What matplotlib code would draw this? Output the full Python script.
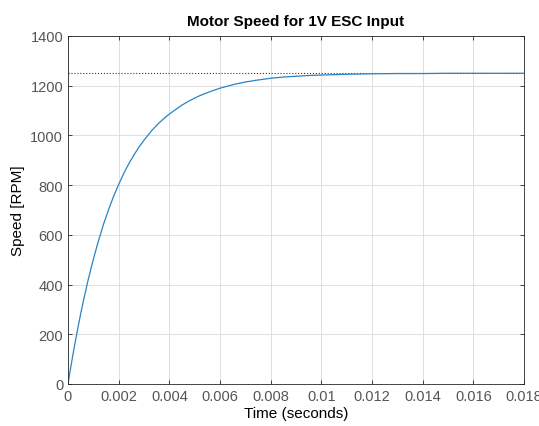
import matplotlib
matplotlib.use("Agg")
import matplotlib.pyplot as plt

# values
time_s = [0, 0.0001, 0.0002, 0.0003, 0.0004, 0.0005, 0.0006, 0.0008, 0.001, 0.0012,
          0.0014, 0.0016, 0.0018, 0.002, 0.0022, 0.0024, 0.0026, 0.0028, 0.003, 0.0033,
          0.0036, 0.0039, 0.0042, 0.0045, 0.0048, 0.0052, 0.0056, 0.006, 0.0065, 0.007,
          0.0075, 0.008, 0.0085, 0.009, 0.0095, 0.010, 0.011, 0.012, 0.013, 0.014,
          0.015, 0.016, 0.017, 0.018]
speed_rpm = [0, 62, 121, 177, 231, 282, 331, 421, 502, 575,
             642, 701, 755, 803, 847, 886, 921, 953, 981, 1019,
             1051, 1078, 1101, 1122, 1140, 1160, 1176, 1190, 1204, 1215,
             1223, 1230, 1235, 1238, 1241, 1243, 1246, 1248, 1249, 1249,
             1250, 1250, 1250, 1250]
final_speed = 1250

plt.rcParams['font.family'] = ['Liberation Sans', 'DejaVu Sans']

fig = plt.figure(figsize=(5.39, 4.27), dpi=100)
ax = fig.add_axes([68/539, 1 - 385/427, (524 - 68)/539, (385 - 37)/427])

ax.plot([0, 0.018], [final_speed, final_speed], color='#333333', linestyle=':', linewidth=0.8)
ax.plot(time_s, speed_rpm, color='#2a83c4', linewidth=0.9)

ax.set_xlim(0, 0.018)
ax.set_ylim(0, 1400)
ax.set_xticks([0, 0.002, 0.004, 0.006, 0.008, 0.01, 0.012, 0.014, 0.016, 0.018])
ax.set_xticklabels(['0', '0.002', '0.004', '0.006', '0.008', '0.01', '0.012', '0.014', '0.016', '0.018'])
ax.set_yticks(range(0, 1401, 200))

ax.grid(True, color='#d9d9d9', linewidth=0.6)
ax.set_axisbelow(True)
for s in ax.spines.values():
    s.set_color('#262626')
    s.set_linewidth(0.6)
ax.tick_params(direction='in', top=True, right=True, length=3, width=0.6,
               colors='#262626', labelcolor='#555555', labelsize=10.5)

ax.set_title('Motor Speed for 1V ESC Input', fontsize=11, fontweight='bold', pad=8)
ax.set_xlabel('Time (seconds)', fontsize=11, labelpad=2)
ax.set_ylabel('Speed [RPM]', fontsize=11, labelpad=4)

fig.savefig('out.png', dpi=100)
